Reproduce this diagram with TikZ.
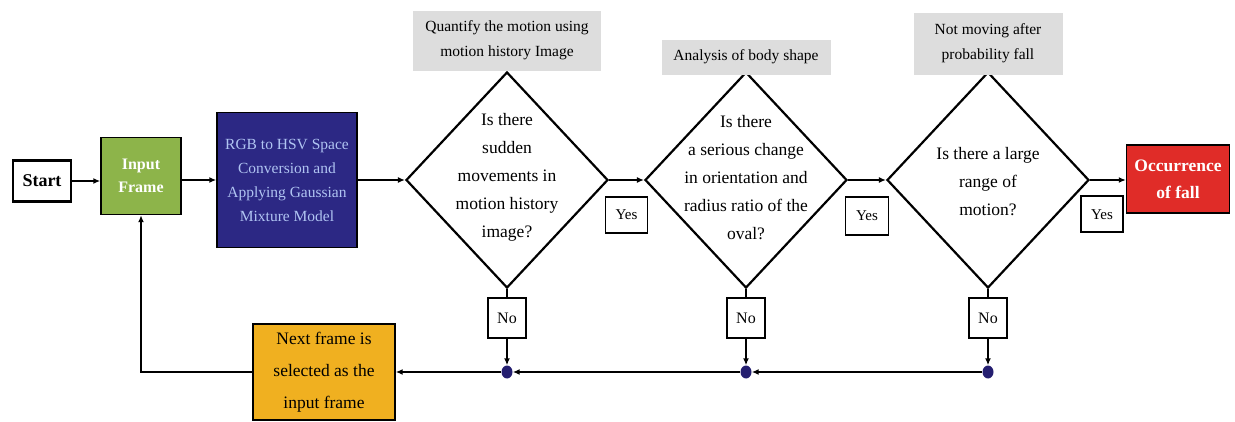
\documentclass[tikz,border=0pt]{standalone}
\usepackage{fontspec}
\setmainfont{Liberation Serif}
\usetikzlibrary{shapes.geometric,arrows.meta,positioning,calc}
\definecolor{framegreen}{RGB}{141,180,74}
\definecolor{hsvblue}{RGB}{44,40,132}
\definecolor{hsvtext}{RGB}{176,196,242}
\definecolor{fallred}{RGB}{224,44,40}
\definecolor{nextorange}{RGB}{240,176,32}
\definecolor{notegray}{RGB}{221,221,221}
\definecolor{jointblue}{RGB}{36,30,112}
\newcommand{\fsz}[2]{\fontsize{#1}{#2}\selectfont}

\begin{document}
\begin{tikzpicture}[
    x=1pt, y=1pt,
    every node/.style={inner sep=0pt, align=center},
    flow/.style={line width=2pt, -{Latex[length=7pt,width=6pt]}},
    box/.style={draw, line width=1.4pt, rectangle},
    decision/.style={draw, diamond, line width=2.2pt, minimum width=202pt, minimum height=216pt},
    question/.style={font=\fsz{17.5}{28}},
    note/.style={fill=notegray, font=\fsz{15.5}{25}},
    answer/.style={draw, fill=white, line width=1.8pt, font=\fsz{15}{18}},
    joint/.style={fill=jointblue, ellipse, minimum width=11pt, minimum height=13pt}
  ]
  \useasboundingbox (0,0) rectangle (1235,421);

  \node[box, line width=2.2pt, minimum width=58pt, minimum height=41pt, font=\bfseries\fsz{18}{22}] (start) at (42,240) {Start};
  \node[box, fill=framegreen, text=white, minimum width=80pt, minimum height=77pt, font=\bfseries\fsz{16}{23}] (input) at (141,245) {Input\\Frame};
  \node[box, fill=hsvblue, text=hsvtext, minimum width=140pt, minimum height=135pt, font=\fsz{15.5}{24}] (rgb) at (287,241) {RGB to HSV Space\\Conversion and\\Applying Gaussian\\Mixture Model};

  \node[decision] (d1) at (507,241) {};
  \node[question] (q1) at ($(d1)+(0,3)$) {Is there\\sudden\\movements in\\motion history\\image?};
  \node[decision] (d2) at (746,241) {};
  \node[question] (q2) at ($(d2)+(0,2)$) {Is there\\a serious change\\in orientation and\\radius ratio of the\\oval?};
  \node[decision] (d3) at (988,241) {};
  \node[question] (q3) at ($(d3)+(0,-2)$) {Is there a large\\range of\\motion?};

  \node[note, minimum width=188pt, minimum height=60pt, above=0pt of d1] (n1) {Quantify the motion using\\motion history Image};
  \node[note, minimum width=169pt, minimum height=35pt, above=-4pt of d2] (n2) {Analysis of body shape};
  \node[note, minimum width=149pt, minimum height=62pt, above=-4pt of d3] (n3) {Not moving after\\probability fall};

  \node[box, fill=fallred, text=white, minimum width=103pt, minimum height=68pt, font=\bfseries\fsz{17.5}{27}] (fall) at (1178,242) {Occurrence\\of fall};
  \node[box, fill=nextorange, minimum width=142pt, minimum height=96pt, font=\fsz{17.5}{32}] (next) at (324,49) {Next frame is\\selected as the\\input frame};

  \node[answer, minimum width=42pt, minimum height=36pt, anchor=north] (yes1) at ($(d1.east)!.5!(d2.west)+(0,-16)$) {Yes};
  \node[answer, minimum width=43pt, minimum height=38pt, anchor=north] (yes2) at ($(d2.east)!.5!(d3.west)+(0,-16)$) {Yes};
  \node[answer, minimum width=42pt, minimum height=36pt, anchor=north] (yes3) at ($(d3.east)!.5!(fall.west)+(-6,-16)$) {Yes};

  \node[answer, minimum width=38pt, minimum height=40pt, font=\fsz{16}{18}, below=8pt of d1] (no1) {No};
  \node[answer, minimum width=38pt, minimum height=40pt, font=\fsz{16}{18}, below=8pt of d2] (no2) {No};
  \node[answer, minimum width=38pt, minimum height=40pt, font=\fsz{16}{18}, below=8pt of d3] (no3) {No};

  \node[joint] (j1) at (d1 |- next) {};
  \node[joint] (j2) at (d2 |- next) {};
  \node[joint] (j3) at (d3 |- next) {};

  \draw[flow] (start.east) -- (start.east -| input.west);
  \draw[flow] (rgb.west -| input.east) -- (rgb.west);
  \draw[flow] (rgb.east) -- (d1.west);
  \draw[flow] (d1.east) -- (d2.west);
  \draw[flow] (d2.east) -- (d3.west);
  \draw[flow] (d3.east) -- (d3.east -| fall.west);

  \draw[line width=2pt] (d1.south) -- (no1.north);
  \draw[line width=2pt] (d2.south) -- (no2.north);
  \draw[line width=2pt] (d3.south) -- (no3.north);
  \draw[flow] (no1.south) -- (j1.north);
  \draw[flow] (no2.south) -- (j2.north);
  \draw[flow] (no3.south) -- (j3.north);

  \draw[flow] (j3.west) -- (j2.east);
  \draw[flow] (j2.west) -- (j1.east);
  \draw[flow] (j1.west) -- (j1 -| next.east);
  \draw[flow] (next.west) -| (input.south);
\end{tikzpicture}
\end{document}
